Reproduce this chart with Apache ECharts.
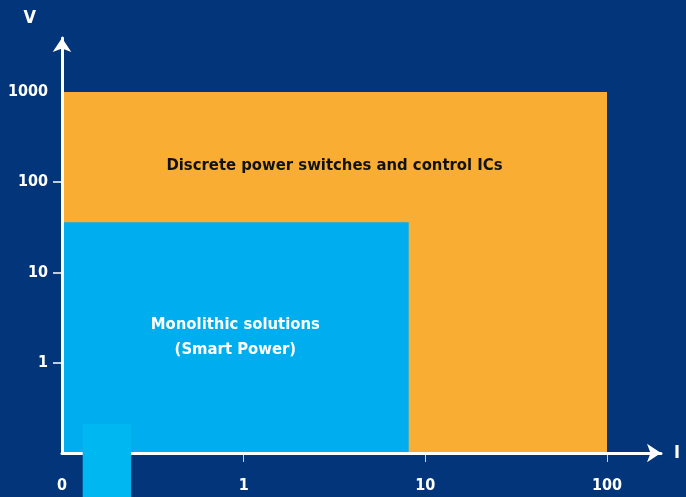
<!DOCTYPE html>
<html>
<head>
<meta charset="utf-8">
<script src="https://cdn.jsdelivr.net/npm/echarts@6/dist/echarts.min.js"></script>
<style>
  html, body { margin: 0; padding: 0; background: #02357a; }
  #chart { width: 686px; height: 497px; }
</style>
</head>
<body>
<div id="chart"></div>
<script>
// regions of the I/V plane (log scales)
var regionNames = ['Discrete power switches and control ICs', 'Monolithic solutions\n(Smart Power)', ''];
var iFrom = [0.1, 0.1, 0.13];
var iTo = [100, 8.1, 0.24];
var vFrom = [0.1, 0.1, 0.03];
var vTo = [1000, 36, 0.21];
var regionColors = ['#f9ae33', '#00aeef', '#00b7f2'];
var regionTextColors = ['#111111', '#ffffff', '#ffffff'];

var iTicks = [0.1, 1, 10, 100];
var vTicks = [1, 10, 100, 1000];

var FONT = "'Liberation Sans Narrow', 'DejaVu Sans Condensed', sans-serif";

var chart = echarts.init(document.getElementById('chart'));

function regionSeries(k, z, textPos) {
  return {
    type: 'custom',
    xAxisIndex: 0,
    yAxisIndex: 0,
    z: z,
    clip: false,
    data: [[iFrom[k], vFrom[k], iTo[k], vTo[k]]],
    renderItem: function (params, api) {
      var p0 = api.coord([api.value(0), api.value(1)]);
      var p1 = api.coord([api.value(2), api.value(3)]);
      return {
        type: 'rect',
        shape: {
          x: Math.min(p0[0], p1[0]),
          y: Math.min(p0[1], p1[1]),
          width: Math.abs(p1[0] - p0[0]),
          height: Math.abs(p1[1] - p0[1])
        },
        style: { fill: regionColors[k] },
        textContent: {
          style: {
            text: regionNames[k],
            fill: regionTextColors[k],
            font: 'bold 16.5px ' + FONT,
            align: 'center',
            lineHeight: 25
          }
        },
        textConfig: textPos
      };
    }
  };
}

var option = {
  backgroundColor: '#02357a',
  animation: false,
  grid: [
    { left: 62, top: 92, width: 545, height: 361, outerBoundsMode: 'none', containLabel: false },
    { left: 62, top: 38, width: 599, height: 415, outerBoundsMode: 'none', containLabel: false }
  ],
  xAxis: [
    {
      type: 'log',
      gridIndex: 0,
      min: iTicks[0],
      max: iTicks[iTicks.length - 1],
      axisLine: { show: false },
      splitLine: { show: false },
      axisTick: { show: true, length: 9, customValues: iTicks.slice(1), lineStyle: { color: '#c9d2e3', width: 1 } },
      axisLabel: {
        margin: 25,
        customValues: iTicks,
        color: '#ffffff',
        fontFamily: FONT,
        fontWeight: 'bold',
        fontSize: 16,
        formatter: function (v) { return v < 1 ? '0' : String(v); }
      }
    },
    {
      type: 'value',
      gridIndex: 1,
      min: 0,
      max: 1,
      z: 3,
      name: 'I',
      nameLocation: 'end',
      nameGap: 13,
      nameTextStyle: { color: '#ffffff', fontFamily: FONT, fontWeight: 'bold', fontSize: 18 },
      axisLine: { show: true, symbol: ['none', 'arrow'], symbolSize: [14, 14], lineStyle: { color: '#ffffff', width: 3 } },
      axisTick: { show: false },
      axisLabel: { show: false },
      splitLine: { show: false }
    }
  ],
  yAxis: [
    {
      type: 'log',
      gridIndex: 0,
      min: 0.1,
      max: vTicks[vTicks.length - 1],
      axisLine: { show: false },
      splitLine: { show: false },
      axisTick: { show: true, length: 9, customValues: vTicks.slice(0, 3), lineStyle: { color: '#ffffff', width: 1.5 } },
      axisLabel: {
        margin: 14,
        customValues: vTicks,
        color: '#ffffff',
        fontFamily: FONT,
        fontWeight: 'bold',
        fontSize: 16,
        formatter: function (v) { return String(v); }
      }
    },
    {
      type: 'value',
      gridIndex: 1,
      min: 0,
      max: 1,
      z: 3,
      name: 'V',
      nameLocation: 'end',
      nameGap: 11,
      nameTextStyle: { color: '#ffffff', fontFamily: FONT, fontWeight: 'bold', fontSize: 18, align: 'right', padding: [0, 26, 0, 0] },
      axisLine: { show: true, symbol: ['none', 'arrow'], symbolSize: [14, 14], lineStyle: { color: '#ffffff', width: 3 } },
      axisTick: { show: false },
      axisLabel: { show: false },
      splitLine: { show: false }
    }
  ],
  series: [
    regionSeries(0, 1, { position: 'insideTop', distance: 61 }),
    regionSeries(1, 2, { position: 'inside' }),
    regionSeries(2, 4, { position: 'inside' })
  ]
};

chart.setOption(option);
</script>
</body>
</html>
